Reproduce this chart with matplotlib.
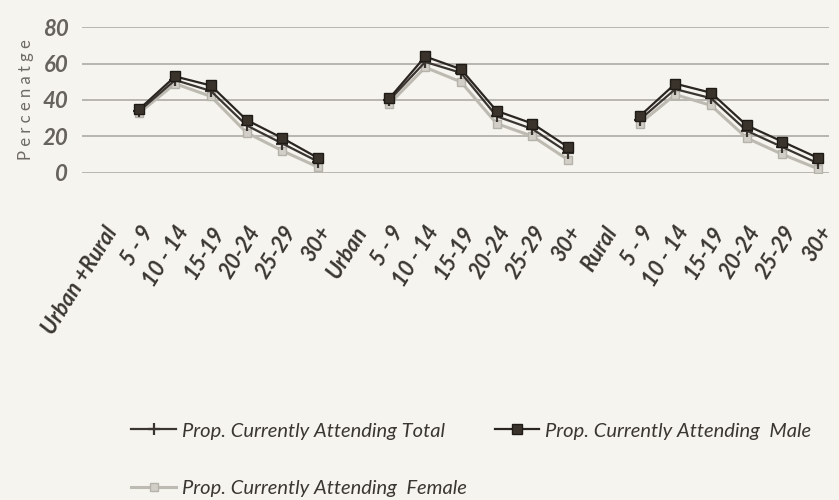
import matplotlib.pyplot as plt
import numpy as np

plt.rcParams['font.family'] = ['Lato', 'DejaVu Sans']

categories = ["Urban +Rural", "5 - 9", "10 - 14", "15-19", "20-24", "25-29", "30+",
              "Urban", "5 - 9", "10 - 14", "15-19", "20-24", "25-29", "30+",
              "Rural", "5 - 9", "10 - 14", "15-19", "20-24", "25-29", "30+"]

nan = np.nan
total = [nan, 34, 51, 45, 26, 16, 6,
         nan, 40, 61, 55, 31, 24, 11,
         nan, 29, 46, 41, 23, 14, 5]
male = [nan, 35, 53, 48, 29, 19, 8,
        nan, 41, 64, 57, 34, 27, 14,
        nan, 31, 49, 44, 26, 17, 8]
female = [nan, 33, 49, 42, 22, 12, 3,
          nan, 38, 58, 50, 27, 20, 7,
          nan, 27, 43, 37, 19, 10, 2]

paper = '#f6f4ef'
fig = plt.figure(figsize=(8.39, 5.0), dpi=100, facecolor=paper)
ax = fig.add_axes([0.098, 0.655, 0.89, 0.29], facecolor=paper)

x = np.arange(len(categories))
l_total, = ax.plot(x, total, color='#3a3530', lw=1.6, marker='+', ms=9, mew=1.6,
                   label='Prop. Currently Attending Total', zorder=4)
l_female, = ax.plot(x, female, color='#bdbab2', lw=2.2, marker='s', ms=6,
                    mfc='#d2cfc8', mec='#b5b2aa', label='Prop. Currently Attending  Female', zorder=3)
l_male, = ax.plot(x, male, color='#2a2520', lw=1.6, marker='s', ms=7,
                  mfc='#3a332c', mec='#1e1a16', label='Prop. Currently Attending  Male', zorder=5)

ax.set_ylim(0, 80)
ax.set_xlim(-0.6, 20.3)
ax.set_yticks([0, 20, 40, 60, 80])
ax.yaxis.grid(True, color='#a8a5a0', lw=1.1)
ax.set_axisbelow(True)
for s in ax.spines.values():
    s.set_visible(False)
ax.tick_params(length=0)
ax.tick_params(axis='y', labelsize=16, labelcolor='#66635e', pad=10)
for t in ax.get_yticklabels():
    t.set_fontstyle('italic')
    t.set_fontweight('bold')

ax.set_xticks(x)
ax.set_xticklabels(categories, rotation=58, ha='right', rotation_mode='anchor',
                   fontsize=15.5, fontstyle='italic', fontweight='bold', color='#3a3632')
ax.tick_params(axis='x', pad=36)

ax.set_ylabel('P e r c e n a t g e', fontsize=12, color='#6e6b66', labelpad=6)

fig.legend(handles=[l_total, l_female, l_male], ncol=2, frameon=False,
           loc='lower left', bbox_to_anchor=(0.135, -0.03),
           prop={'style': 'italic', 'size': 14.5}, handlelength=2.2,
           columnspacing=1.4, labelspacing=2.0, handletextpad=0.3,
           labelcolor='#3a3632')

fig.savefig('out.png', dpi=100, facecolor=paper)
